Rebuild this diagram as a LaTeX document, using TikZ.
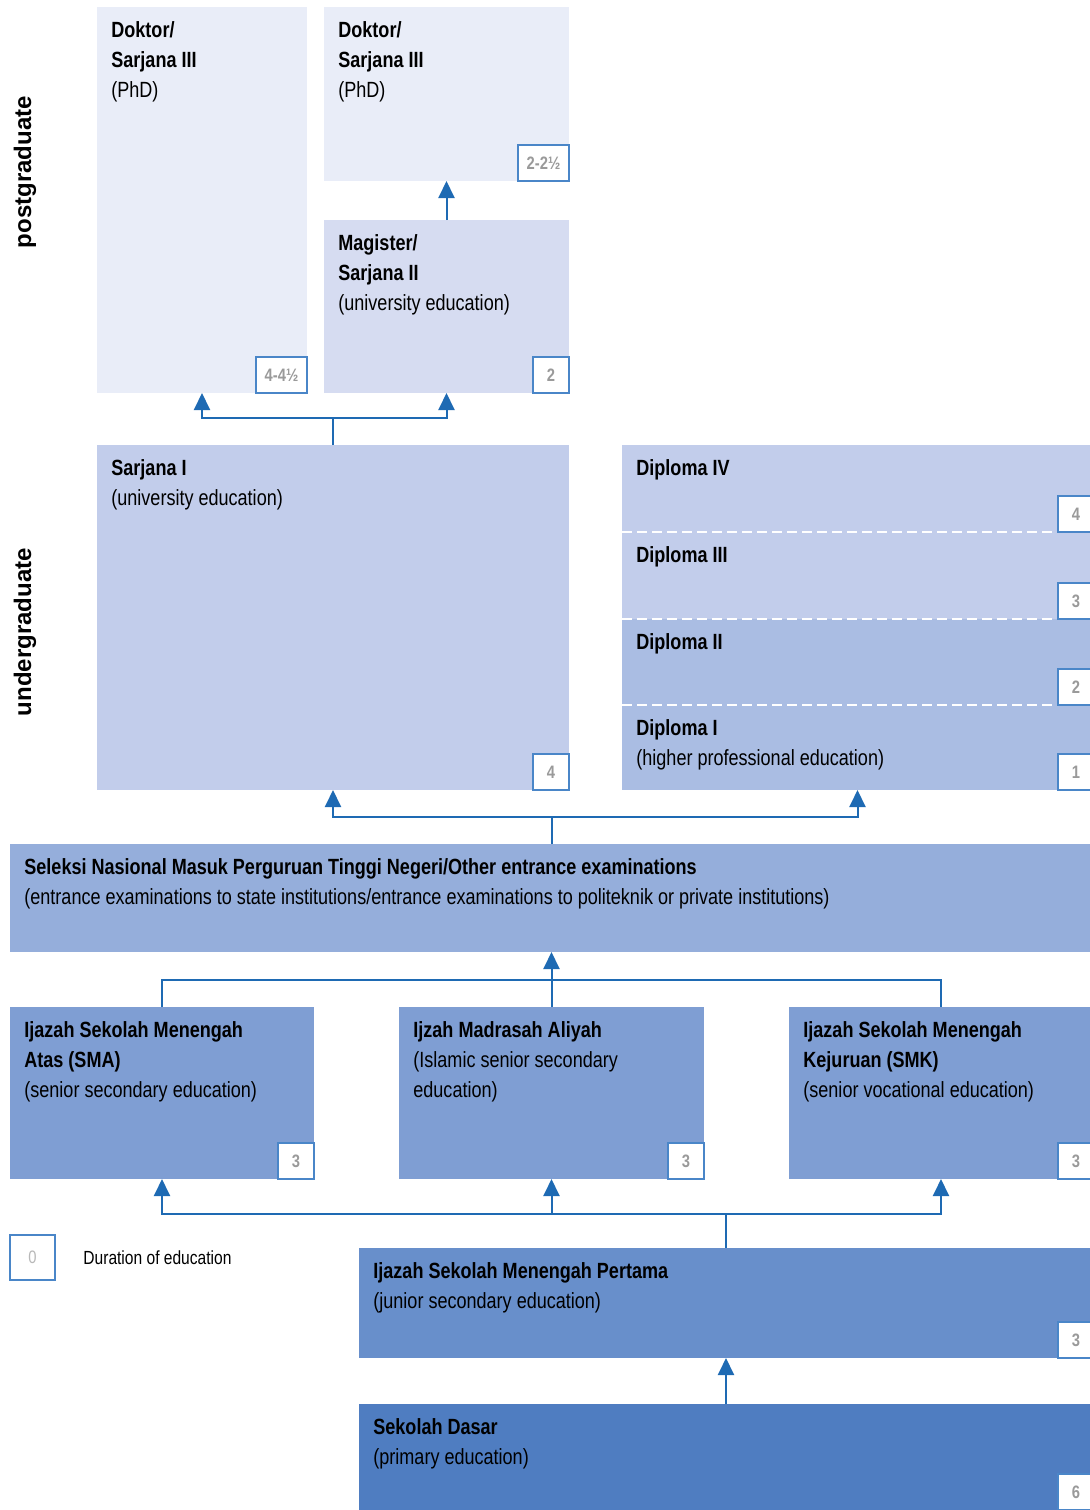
\documentclass[tikz,border=0pt]{standalone}
\usepackage{fontspec}
\setmainfont{Liberation Sans}[FakeStretch=0.82]
\newfontfamily\widefont{Liberation Sans}
\usetikzlibrary{fit,arrows.meta}
\definecolor{cDok}{HTML}{E9EDF8}
\definecolor{cMag}{HTML}{D6DCF1}
\definecolor{cSar}{HTML}{C2CDEB}
\definecolor{cDip}{HTML}{AABDE3}
\definecolor{cSel}{HTML}{95AEDB}
\definecolor{cSec}{HTML}{7F9ED3}
\definecolor{cSmp}{HTML}{688FCB}
\definecolor{cSd}{HTML}{4F7DC1}
\definecolor{cArr}{HTML}{1E6AB3}
\definecolor{cDur}{HTML}{4A86C8}
\definecolor{cNum}{HTML}{9A9A9A}
\tikzset{
  edbox/.style={inner sep=0pt, outer sep=0pt, draw=none},
  txt/.style={anchor=north west, inner sep=0pt, align=left, font=\fontsize{11}{15}\selectfont},
  dur/.style={inner sep=0pt, outer sep=0pt, fill=white, draw=cDur, line width=1pt, text=cNum,
    minimum height=18pt, minimum width=18pt, font=\fontsize{9}{10}\selectfont\bfseries},
  durw/.style={dur, minimum width=25.5pt},
  conn/.style={draw=cArr, line width=1pt},
  arr/.style={conn, -{Triangle[width=8pt,length=8.5pt]}},
  side/.style={rotate=90, inner sep=0pt, font=\widefont\bfseries\fontsize{12}{14}\selectfont}
}
\begin{document}
\begin{tikzpicture}[x=0.5pt,y=-0.5pt]
\useasboundingbox (0,0) rectangle (1090,1510);
% boxes
\node[edbox, fill=cDok, fit={(97,7)(307,393)}] (dok1) {};
\node[edbox, fill=cDok, fit={(324,7)(569,181)}] (dok2) {};
\node[edbox, fill=cMag, fit={(324,220)(569,393)}] (mag) {};
\node[edbox, fill=cSar, fit={(97,445)(569,790)}] (s1) {};
\node[edbox, fill=cSar, fit={(622,445)(1093,532)}] (d4) {};
\node[edbox, fill=cSar, fit={(622,532)(1093,619)}] (d3) {};
\node[edbox, fill=cDip, fit={(622,619)(1093,705)}] (d2) {};
\node[edbox, fill=cDip, fit={(622,705)(1093,790)}] (d1) {};
\draw[white, line width=1pt, dash pattern=on 5pt off 2.5pt] (d4.south west) -- (d4.south east);
\draw[white, line width=1pt, dash pattern=on 5pt off 2.5pt] (d3.south west) -- (d3.south east);
\draw[white, line width=1pt, dash pattern=on 5pt off 2.5pt] (d2.south west) -- (d2.south east);
\node[edbox, fill=cSel, fit={(10,844)(1093,952)}] (sel) {};
\node[edbox, fill=cSec, fit={(10,1007)(314,1179)}] (sma) {};
\node[edbox, fill=cSec, fit={(399,1007)(704,1179)}] (mad) {};
\node[edbox, fill=cSec, fit={(789,1007)(1093,1179)}] (smk) {};
\node[edbox, fill=cSmp, fit={(359,1248)(1093,1358)}] (smp) {};
\node[edbox, fill=cSd, fit={(359,1404)(1093,1515)}] (sd) {};
% texts
\node[txt] (dok1t) at ([xshift=7pt,yshift=-7pt]dok1.north west) {\textbf{Doktor/}\\\textbf{Sarjana III}\\(PhD)};
\node[txt] (dok2t) at ([xshift=7pt,yshift=-7pt]dok2.north west) {\textbf{Doktor/}\\\textbf{Sarjana III}\\(PhD)};
\node[txt] (magt) at ([xshift=7pt,yshift=-7pt]mag.north west) {\textbf{Magister/}\\\textbf{Sarjana II}\\(university education)};
\node[txt] (s1t) at ([xshift=7pt,yshift=-7pt]s1.north west) {\textbf{Sarjana I}\\(university education)};
\node[txt] (d4t) at ([xshift=7pt,yshift=-7pt]d4.north west) {\textbf{Diploma IV}};
\node[txt] (d3t) at ([xshift=7pt,yshift=-7pt]d3.north west) {\textbf{Diploma III}};
\node[txt] (d2t) at ([xshift=7pt,yshift=-7pt]d2.north west) {\textbf{Diploma II}};
\node[txt] (d1t) at ([xshift=7pt,yshift=-7pt]d1.north west) {\textbf{Diploma I}\\(higher professional education)};
\node[txt] (selt) at ([xshift=7pt,yshift=-7pt]sel.north west) {\textbf{Seleksi Nasional Masuk Perguruan Tinggi Negeri/Other entrance examinations}\\(entrance examinations to state institutions/entrance examinations to politeknik or private institutions)};
\node[txt] (smat) at ([xshift=7pt,yshift=-7pt]sma.north west) {\textbf{Ijazah Sekolah Menengah}\\\textbf{Atas (SMA)}\\(senior secondary education)};
\node[txt] (madt) at ([xshift=7pt,yshift=-7pt]mad.north west) {\textbf{Ijzah Madrasah Aliyah}\\(Islamic senior secondary\\education)};
\node[txt] (smkt) at ([xshift=7pt,yshift=-7pt]smk.north west) {\textbf{Ijazah Sekolah Menengah}\\\textbf{Kejuruan (SMK)}\\(senior vocational education)};
\node[txt] (smpt) at ([xshift=7pt,yshift=-7pt]smp.north west) {\textbf{Ijazah Sekolah Menengah Pertama}\\(junior secondary education)};
\node[txt] (sdt) at ([xshift=7pt,yshift=-7pt]sd.north west) {\textbf{Sekolah Dasar}\\(primary education)};
% durations
\node[durw, anchor=south east] (dok1d) at (dok1.south east) {4-4½};
\node[durw, anchor=south east] (dok2d) at (dok2.south east) {2-2½};
\node[dur, anchor=south east] (magd) at (mag.south east) {2};
\node[dur, anchor=south east] (s1d) at (s1.south east) {4};
\node[dur, anchor=south west] (d4d) at (1058,532) {4};
\node[dur, anchor=south west] (d3d) at (1058,619) {3};
\node[dur, anchor=south west] (d2d) at (1058,705) {2};
\node[dur, anchor=south west] (d1d) at (1058,790) {1};
\node[dur, anchor=south east] (smad) at (sma.south east) {3};
\node[dur, anchor=south east] (madd) at (mad.south east) {3};
\node[dur, anchor=south west] (smkd) at (1058,1179) {3};
\node[dur, anchor=south west] (smpd) at (1058,1358) {3};
\node[dur, anchor=south west] (sdd) at (1058,1510) {6};
% legend
\node[dur, font=\fontsize{9}{10}\selectfont, text=cNum!70, minimum width=22.5pt, minimum height=22.5pt, anchor=north west] (leg) at (10,1235) {0};
\node[anchor=west, inner sep=0pt, font=\fontsize{9.5}{11}\selectfont] (legt) at (83,1258) {Duration of education};
% side labels
\node[side] (pg) at (25,172) {postgraduate};
\node[side] (ug) at (25,632) {undergraduate};
% connectors
\coordinate (j1) at ([yshift=13.5pt]s1.north);
\coordinate (j2) at ([yshift=13.5pt]sel.north);
\coordinate (j3) at ([yshift=13.5pt]mad.north);
\coordinate (j4) at ([yshift=17pt]smp.north);
\draw[arr] (mag.north) -- (dok2.south);
\draw[conn] (s1.north) -- (j1);
\draw[arr] (j1) -| (dok1.south);
\draw[arr] (j1) -| (mag.south);
\draw[conn] (sel.north) -- (j2);
\draw[arr] (j2) -| (s1.south);
\draw[arr] (j2) -| (d1.south);
\draw[conn] (sma.north) -- (sma.north |- j3) -- (smk.north |- j3) -- (smk.north);
\draw[arr] (mad.north) -- (sel.south);
\draw[conn] (smp.north) -- (j4);
\draw[arr] (j4) -| (sma.south);
\draw[arr] (j4) -| (smk.south);
\draw[arr] (mad.south |- j4) -- (mad.south);
\draw[arr] (sd.north) -- (smp.south);
\end{tikzpicture}
\end{document}
